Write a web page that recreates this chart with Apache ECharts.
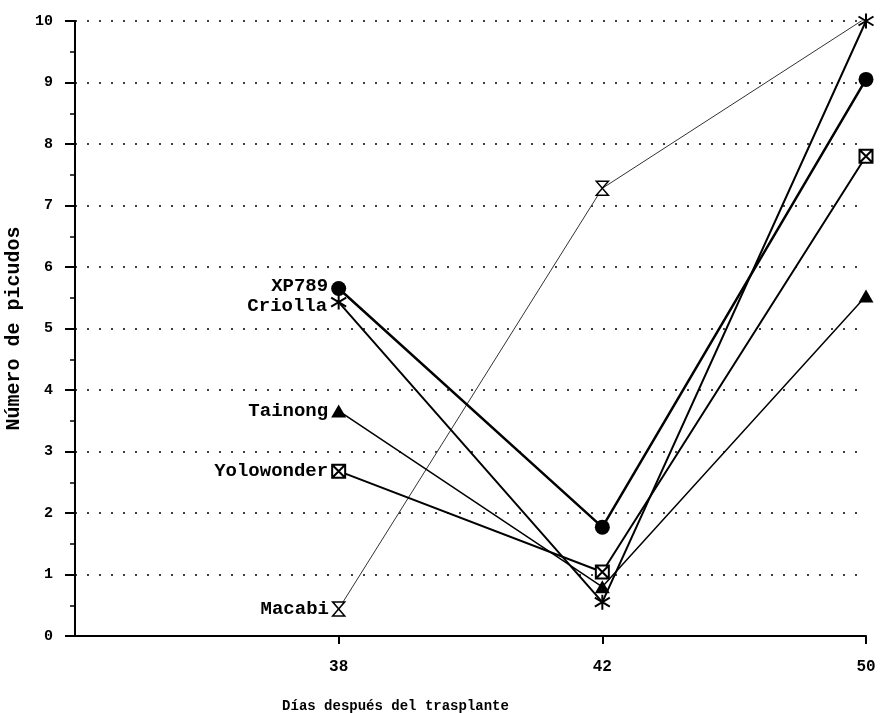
<!DOCTYPE html>
<html>
<head>
<meta charset="utf-8">
<script src="https://cdn.jsdelivr.net/npm/echarts@6/dist/echarts.min.js"></script>
<style>
html, body { margin: 0; padding: 0; background: #fff; }
#main { width: 884px; height: 713px; }
</style>
</head>
<body>
<div id="main"></div>
<script>
// 数据
var xCategories = ['', '38', '42', '50'];
var days = ['38', '42', '50'];
var yTicks = [0, 1, 2, 3, 4, 5, 6, 7, 8, 9, 10];

var xp789 = [5.65, 1.77, 9.05];
var criolla = [5.43, 0.55, 10.0];
var tainong = [3.66, 0.8, 5.53];
var yolowonder = [2.68, 1.04, 7.8];
var macabi = [0.44, 7.28, 10.05];

var FONT = 'Liberation Mono';

// 符号
var symAsterisk = 'path://M10,0 L10,20 M1,4 L19,16 M19,4 L1,16';
var symBoxX = 'path://M0,0 L20,0 L20,20 L0,20 Z M0,0 L20,20 M20,0 L0,20';
var symHourglass = 'path://M0,0 L20,0 L0,20 L20,20 Z';

function makeData(name, values, labelOffsetY) {
	var arr = [];
	for (var i = 0; i < values.length; i++) {
		var item = { value: [days[i], values[i]] };
		if (i === 0) {
			item.label = {
				show: true,
				position: 'left',
				distance: 3,
				offset: [0, labelOffsetY || 0],
				formatter: name,
				color: '#000',
				fontFamily: FONT,
				fontWeight: 'bold',
				fontSize: 19
			};
		}
		arr.push(item);
	}
	return arr;
}

function makeSeries(name, values, opts) {
	return {
		name: name,
		type: 'line',
		data: makeData(name, values, opts.labelOffsetY),
		symbol: opts.symbol,
		symbolSize: opts.symbolSize,
		lineStyle: { color: opts.lineColor || '#000', width: opts.lineWidth },
		itemStyle: {
			color: opts.fill,
			borderColor: '#000',
			borderWidth: opts.borderWidth || 0
		},
		emphasis: { disabled: true },
		z: opts.z || 2
	};
}

var myChart = echarts.init(document.getElementById('main'));

myChart.setOption({
	animation: false,
	backgroundColor: '#fff',
	grid: { left: 75, right: 18, top: 21, bottom: 77, containLabel: false, outerBoundsMode: 'none' },
	xAxis: {
		type: 'category',
		data: xCategories,
		boundaryGap: false,
		axisLine: { lineStyle: { color: '#000', width: 2 } },
		axisTick: {
			length: 8,
			interval: function (i) { return i > 0; },
			lineStyle: { color: '#000', width: 2 }
		},
		axisLabel: {
			margin: 23,
			color: '#000',
			fontFamily: FONT,
			fontWeight: 'bold',
			fontSize: 16,
			interval: 0
		},
		splitLine: { show: false },
		name: 'Días después del trasplante',
		nameLocation: 'middle',
		nameGap: 63,
		nameTextStyle: {
			color: '#000',
			fontFamily: FONT,
			fontWeight: 'bold',
			fontSize: 14,
			padding: [0, 150, 0, 0]
		}
	},
	yAxis: {
		type: 'value',
		min: yTicks[0],
		max: yTicks[yTicks.length - 1],
		interval: 1,
		axisLine: { show: true, lineStyle: { color: '#000', width: 2 } },
		axisTick: { show: true, length: 10, lineStyle: { color: '#000', width: 2 } },
		minorTick: { show: true, splitNumber: 2, length: 5, lineStyle: { color: '#000', width: 1.5 } },
		axisLabel: {
			margin: 22,
			color: '#000',
			fontFamily: FONT,
			fontWeight: 'bold',
			fontSize: 15
		},
		splitLine: {
			show: true,
			showMinLine: false,
			lineStyle: { color: '#000', type: [2, 10], width: 1.5 }
		},
		name: 'Número de picudos',
		nameLocation: 'middle',
		nameRotate: 90,
		nameGap: 41,
		nameTextStyle: {
			color: '#000',
			fontFamily: FONT,
			fontWeight: 'bold',
			fontSize: 20
		}
	},
	series: [
		makeSeries('Macabi', macabi, { symbol: symHourglass, symbolSize: [12, 14], fill: '#fff', borderWidth: 1.5, lineWidth: 1, lineColor: '#333', z: 2 }),
		makeSeries('Tainong', tainong, { symbol: 'triangle', symbolSize: [15, 13], fill: '#000', lineWidth: 1.5, z: 3 }),
		makeSeries('Yolowonder', yolowonder, { symbol: symBoxX, symbolSize: 13, fill: '#fff', borderWidth: 2, lineWidth: 2, z: 4 }),
		makeSeries('Criolla', criolla, { symbol: symAsterisk, symbolSize: 15, fill: '#000', borderWidth: 2, lineWidth: 2, labelOffsetY: 4, z: 5 }),
		makeSeries('XP789', xp789, { symbol: 'circle', symbolSize: 15, fill: '#000', lineWidth: 2.5, labelOffsetY: -2, z: 6 })
	]
});
</script>
</body>
</html>
